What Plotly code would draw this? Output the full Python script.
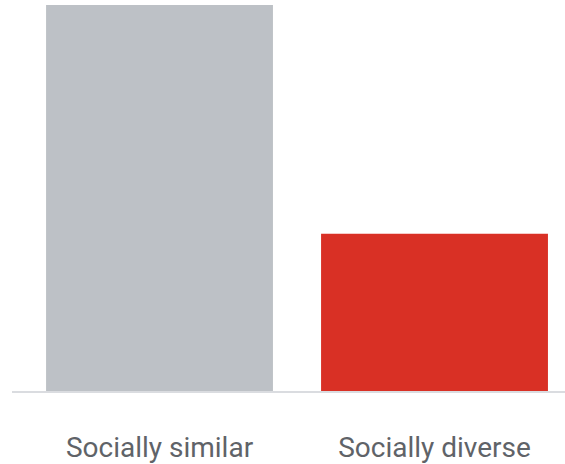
import plotly.graph_objects as go

groups = ["Socially similar", "Socially diverse"]
values = [100, 40.7]
bar_colors = ["#BDC1C6", "#D93025"]

fig = go.Figure(
    go.Bar(
        x=groups,
        y=values,
        marker=dict(color=bar_colors, line=dict(width=0)),
        width=0.825,
        hoverinfo="skip",
    )
)

fig.update_layout(
    width=565,
    height=464,
    margin=dict(l=12, r=0, t=0, b=68),
    paper_bgcolor="white",
    plot_bgcolor="white",
    showlegend=False,
    font=dict(family="Roboto", color="#5F6368"),
)

fig.update_xaxes(
    range=[-0.5364, 1.4745],
    showline=True,
    linecolor="#DADCE0",
    linewidth=2,
    showgrid=False,
    zeroline=False,
    ticks="",
    tickfont=dict(size=28, color="#5F6368"),
    ticklabelstandoff=30,
)
fig.update_yaxes(
    range=[0, 101.28],
    visible=False,
    showgrid=False,
    zeroline=False,
)

fig.write_html("out.html")
